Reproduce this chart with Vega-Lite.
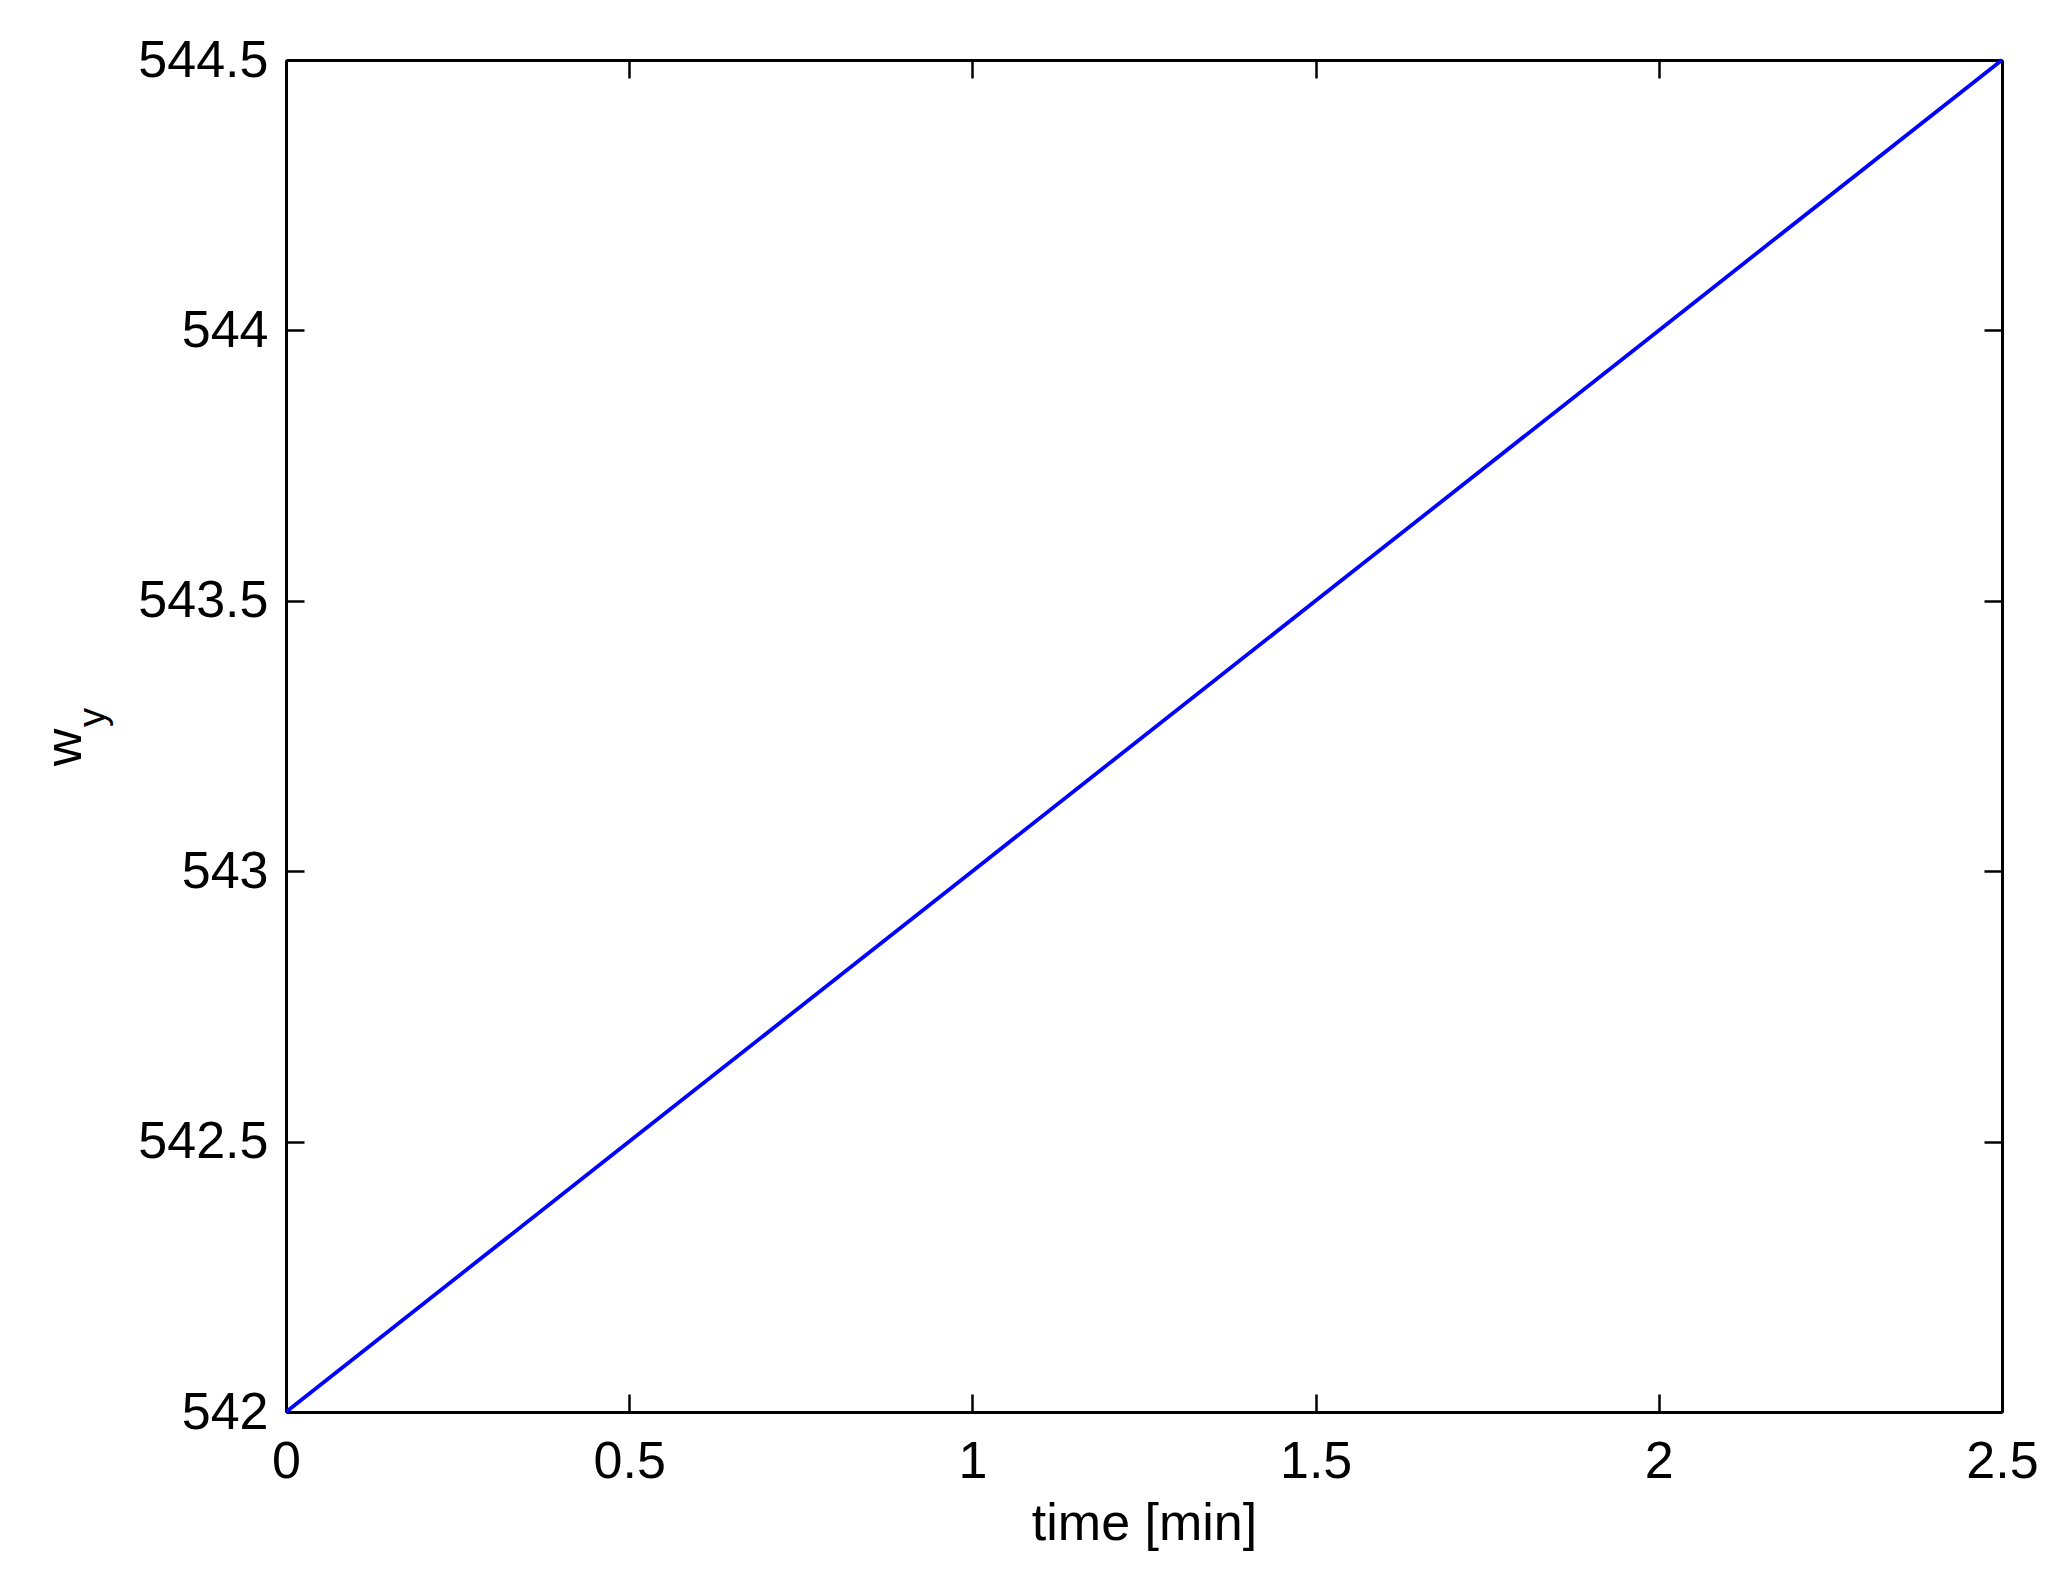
{
  "$schema": "https://vega.github.io/schema/vega-lite/v6.json",
  "autosize": {"type": "none"},
  "padding": {"left": 286, "top": 60, "right": 66, "bottom": 174},
  "width": 1716,
  "height": 1352,
  "background": "white",
  "config": {
    "view": {"stroke": null},
    "font": "Liberation Sans",
    "axis": {
      "grid": false,
      "domainColor": "black",
      "domainWidth": 3,
      "tickColor": "black",
      "tickWidth": 2.5,
      "tickSize": -18,
      "labelColor": "black",
      "labelFont": "Liberation Sans",
      "labelFontSize": 52,
      "titleFont": "Liberation Sans",
      "titleFontSize": 52,
      "titleFontWeight": "normal",
      "titleColor": "black",
      "labelFlush": false,
      "labelOverlap": false
    }
  },
  "data": {
    "values": [
      {"t": 0, "w": 542},
      {"t": 0.5, "w": 542.5},
      {"t": 1, "w": 543},
      {"t": 1.5, "w": 543.5},
      {"t": 2, "w": 544},
      {"t": 2.5, "w": 544.5}
    ]
  },
  "layer": [
    {
      "mark": {"type": "line", "color": "#0000FF", "strokeWidth": 3.8, "clip": false},
      "encoding": {
        "x": {
          "field": "t", "type": "quantitative",
          "scale": {"domain": [0, 2.5], "nice": false, "zero": false},
          "axis": {
            "orient": "bottom",
            "values": [0, 0.5, 1, 1.5, 2, 2.5],
            "format": "~g",
            "labelPadding": 42,
            "title": "time [min]",
            "titleBaseline": "alphabetic",
            "titleY": 127
          }
        },
        "y": {
          "field": "w", "type": "quantitative",
          "scale": {"domain": [542, 544.5], "nice": false, "zero": false},
          "axis": {
            "orient": "left",
            "values": [542, 542.5, 543, 543.5, 544, 544.5],
            "format": "~g",
            "labelPadding": 36,
            "title": "w",
            "titleAngle": 270,
            "titleBaseline": "alphabetic",
            "titleAlign": "center",
            "titleX": -206,
            "titleY": 687
          }
        }
      }
    },
    {
      "mark": {"type": "line", "opacity": 0},
      "encoding": {
        "x": {
          "field": "t", "type": "quantitative",
          "axis": {
            "orient": "top",
            "values": [0, 0.5, 1, 1.5, 2, 2.5],
            "labels": false,
            "title": null
          }
        },
        "y": {
          "field": "w", "type": "quantitative",
          "axis": {
            "orient": "right",
            "values": [542, 542.5, 543, 543.5, 544, 544.5],
            "labels": false,
            "title": "y",
            "titleFontSize": 38,
            "titleAngle": 270,
            "titleBaseline": "alphabetic",
            "titleAlign": "center",
            "titleX": -1898,
            "titleY": 657
          }
        }
      }
    }
  ],
  "resolve": {"axis": {"x": "independent", "y": "independent"}}
}
